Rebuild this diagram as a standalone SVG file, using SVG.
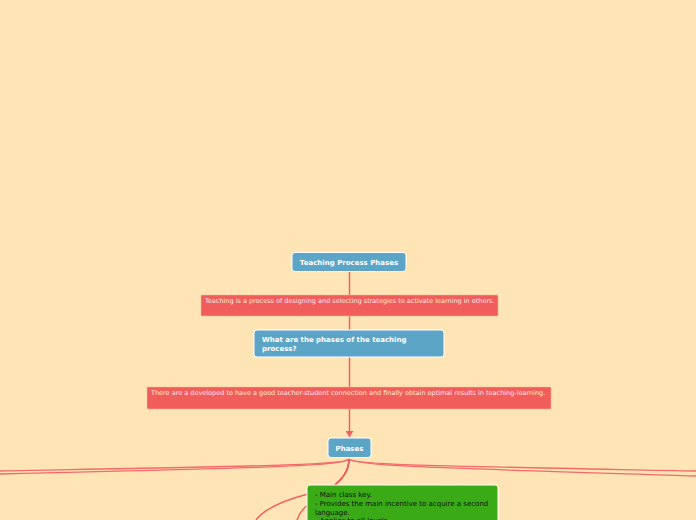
<svg xmlns="http://www.w3.org/2000/svg" width="696" height="520" viewBox="0 0 696 520">
<style>
.bg{fill:#ffe5b6}
.blue{fill:#5da5c7;stroke:#ffffff;stroke-width:1}
.red{fill:#f05d5b;stroke:#f5b59b;stroke-width:0.5}
.green{fill:#3aaa17;stroke:#ffffff;stroke-width:1}
.bt{font-family:"DejaVu Sans",Verdana,sans-serif;font-weight:bold;font-size:7px;fill:#ffffff}
.rt{font-family:"DejaVu Sans",Verdana,sans-serif;font-size:6.5px;fill:#ffe8e0}
.gt{font-family:"DejaVu Sans",Verdana,sans-serif;font-size:7px;fill:#111111}
.c{fill:none;stroke:#f06060;stroke-width:1.5}
.c2{fill:none;stroke:#f26a6a;stroke-width:1.3}
</style>
<defs>
<marker id="ah" markerWidth="8" markerHeight="8" refX="6" refY="4" orient="auto" markerUnits="userSpaceOnUse">
<path d="M0,0 L6,4 L0,8 Z" fill="#f06060"/>
</marker>
</defs>
<rect class="bg" x="0" y="0" width="696" height="520"/>
<g id="connectors">
<line class="c" x1="349.5" y1="271" x2="349.5" y2="295"/>
<line class="c" x1="349.5" y1="316" x2="349.5" y2="330"/>
<line class="c" x1="349.5" y1="357" x2="349.5" y2="387"/>
<line class="c" x1="349.5" y1="409" x2="349.5" y2="437" marker-end="url(#ah)"/>
<path class="c2" d="M349,459 C346,465 260,466 0,471"/>
<path class="c2" d="M349,459 C346,466 260,468 0,474"/>
<path class="c2" d="M349,459 C352,465 440,466 696,471"/>
<path class="c2" d="M349,459 C352,466 440,468 696,476"/>
<path class="c" d="M349,459 C349,472 342,480 332,487"/>
<path class="c" d="M349,459 C349,472 342,480 332,487 L308,494 C285,500 265,508 256,520"/>
<path class="c" d="M349,459 C349,472 342,480 332,487 L308,505 C302,509 299,514 297,520"/>
</g>
<g id="node-title">
<rect class="blue" x="292" y="252.5" width="114" height="19" rx="3"/>
<text class="bt" x="349" y="264.5" text-anchor="middle">Teaching Process Phases</text>
</g>
<g id="node-definition">
<rect class="red" x="201" y="295" width="297" height="21" rx="1"/>
<text class="rt" x="205" y="302.5">Teaching is a process of designing and selecting strategies to activate learning in others.</text>
</g>
<g id="node-question">
<rect class="blue" x="254" y="330" width="190" height="27" rx="3"/>
<text class="bt" x="262" y="342">What are the phases of the teaching</text>
<text class="bt" x="262" y="351">process?</text>
</g>
<g id="node-answer">
<rect class="red" x="147" y="387" width="404" height="22" rx="1"/>
<text class="rt" x="151" y="395">There are a developed to have a good teacher-student connection and finally obtain optimal results in teaching-learning.</text>
</g>
<g id="node-phases">
<rect class="blue" x="328" y="438" width="43" height="19.5" rx="3"/>
<text class="bt" x="349.5" y="450.5" text-anchor="middle">Phases</text>
</g>
<g id="node-main">
<rect class="green" x="307" y="485" width="191" height="50" rx="3"/>
<text class="gt" x="315" y="497">- Main class key.</text>
<text class="gt" x="315" y="506">- Provides the main incentive to acquire a second</text>
<text class="gt" x="315" y="514.5">language.</text>
<text class="gt" x="315" y="523">- Applies to all levels.</text>
</g>
</svg>
